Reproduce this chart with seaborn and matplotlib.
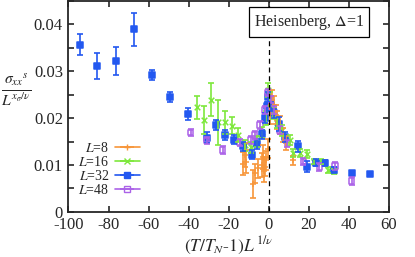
import numpy as np
import pandas as pd
import matplotlib
matplotlib.use("Agg")
import matplotlib.pyplot as plt
import seaborn as sns

# L=8
x8 = [-12.7, -11.8, -11.3, -8, -6.8, -5.2, -3.5, -2.7, -2.3, -1.8, -1.3, -0.5, 0.6, 1.6, 2.6, 3.6, 4.2, 5.6, 7.1, 8.6, 12]
y8 = [0.0103, 0.0121, 0.0107, 0.006, 0.0082, 0.0093, 0.0100, 0.0117, 0.0088, 0.0096, 0.0110, 0.0135, 0.0207, 0.0239, 0.0228, 0.0207, 0.0196, 0.0185, 0.0164, 0.0147, 0.0110]
e8 = [0.0025, 0.0025, 0.0025, 0.003, 0.002, 0.002, 0.0025, 0.0025, 0.0025, 0.002, 0.002, 0.002, 0.002, 0.002, 0.002, 0.002, 0.002, 0.002, 0.0015, 0.0015, 0.001]
# L=16
x16 = [-35.6, -32.3, -28.8, -25.1, -21.8, -18.5, -15.2, -12, -9, -6, -3.5, -1.5, -0.5, 0.5, 2, 4, 6.6, 10.6, 12.3, 15.6, 19.3, 22.8, 26, 29.7, 32.6]
y16 = [0.0223, 0.0196, 0.0239, 0.0191, 0.0191, 0.0184, 0.0164, 0.0142, 0.0138, 0.0150, 0.0170, 0.0200, 0.0260, 0.0240, 0.0210, 0.0190, 0.0174, 0.0153, 0.0126, 0.0125, 0.0123, 0.0107, 0.0107, 0.0089, 0.0086]
e16 = [0.0025, 0.003, 0.0035, 0.0048, 0.0025, 0.0018, 0.0015, 0.0012, 0.0012, 0.0012, 0.0012, 0.0015, 0.0015, 0.0015, 0.0012, 0.0012, 0.0012, 0.001, 0.0008, 0.0008, 0.0008, 0.0006, 0.0006, 0.0006, 0.0005]
# L=32
x32 = [-94.2, -85.7, -76.2, -67.2, -58.2, -49.3, -40.3, -31, -26.3, -21.8, -17.2, -12.8, -8.2, -5.8, -3.5, -2, -1, -0.3, 1, 2.5, 5.3, 8, 14.5, 19, 23.5, 28, 32.6, 41.4, 50.5]
y32 = [0.0357, 0.0311, 0.0322, 0.0390, 0.0292, 0.0245, 0.0209, 0.0158, 0.0185, 0.0164, 0.0154, 0.0140, 0.0122, 0.0145, 0.0165, 0.0200, 0.0225, 0.0245, 0.0225, 0.0210, 0.0187, 0.0160, 0.0140, 0.0096, 0.0105, 0.0104, 0.0089, 0.0082, 0.0081]
e32 = [0.0023, 0.0027, 0.003, 0.0035, 0.001, 0.001, 0.0012, 0.0012, 0.001, 0.001, 0.001, 0.001, 0.001, 0.001, 0.001, 0.001, 0.001, 0.001, 0.001, 0.001, 0.0015, 0.001, 0.0012, 0.0012, 0.0008, 0.0006, 0.0006, 0.0005, 0.0004]
# L=48
x48 = [-39, -31, -23, -14.3, -9, -7, -4.3, -1.8, -0.3, 1, 2.5, 5.6, 9.3, 17.3, 25.3, 33.2, 41.4]
y48 = [0.0169, 0.0152, 0.0132, 0.0148, 0.0153, 0.0164, 0.0185, 0.0217, 0.0255, 0.0240, 0.0217, 0.0175, 0.0146, 0.0107, 0.0096, 0.0098, 0.0066]
e48 = [0.0008] * len(x48)

labels = ["L=8", "L=16", "L=32", "L=48"]
colors = ["#f7963a", "#7ee83c", "#2358f0", "#ab62e8"]
markers = ["+", "x", "s", "s"]

sns.set_style("ticks")
plt.rcParams["font.family"] = "serif"
plt.rcParams["font.serif"] = ["Liberation Serif", "DejaVu Serif"]
plt.rcParams["mathtext.fontset"] = "stix"
plt.rcParams["axes.unicode_minus"] = False

fig = plt.figure(figsize=(4.15, 2.57), dpi=100)
ax = fig.add_axes([0.165, 0.176, 0.772, 0.82])

series = [(x8, y8, e8), (x16, y16, e16), (x32, y32, e32), (x48, y48, e48)]
handles = []
for (xs, ys, es), lab, c, m in zip(series, labels, colors, markers):
    df = pd.DataFrame({"x": xs, "y": ys})
    ax.errorbar(xs, ys, yerr=es, fmt="none", ecolor=c, elinewidth=1.2, capsize=2, capthick=1.2)
    face = "none" if lab == "L=48" else c
    sns.scatterplot(data=df, x="x", y="y", ax=ax, marker=m, s=16, color=c,
                    facecolors=face, edgecolor=c, linewidth=1.1, legend=False)
    h = ax.errorbar([], [], xerr=[], color=c, marker=m, ms=4, mfc=face, mec=c,
                    lw=1.2, capsize=2, label=lab)
    handles.append(h)

ax.axvline(0, color="black", ls=(0, (4, 3)), lw=0.9)

ax.set_xlim(-100, 60)
ax.set_ylim(0, 0.045)
ax.set_xticks(np.arange(-100, 61, 20))
ax.set_yticks([0, 0.01, 0.02, 0.03, 0.04])
ax.set_yticklabels(["0", "0.01", "0.02", "0.03", "0.04"])
ax.set_yticks(np.arange(0, 0.0451, 0.005), minor=True)
ax.tick_params(which="both", direction="in", top=True, right=True, labelsize=12, width=1.2, pad=4)
ax.tick_params(which="major", length=4)
ax.tick_params(which="minor", length=4)
for s in ax.spines.values():
    s.set_linewidth(1.3)

ax.set_xlabel(r"$(T/T_N$-$1)L^{\,1/\nu}$", fontsize=12.5, va="center")
ax.xaxis.set_label_coords(0.5, -0.163)
ax.set_ylabel(r"$\frac{\sigma_{xx}{}^{s}}{L^{x_\sigma/\nu}}$", fontsize=16, rotation=0, va="center", ha="center")
ax.yaxis.set_label_coords(-0.163, 0.58)

ax.text(0.75, 0.9, r"Heisenberg, $\Delta$=1", transform=ax.transAxes, ha="center", va="center",
        fontsize=11.5, bbox=dict(boxstyle="square,pad=0.3", fc="white", ec="black", lw=0.9))

leg = ax.legend(handles=handles, labels=[r"$L$=8", r"$L$=16", r"$L$=32", r"$L$=48"],
                loc="lower right", bbox_to_anchor=(0.223, 0.07), frameon=False, fontsize=10,
                markerfirst=False, handlelength=1.8, labelspacing=0.0, borderpad=0.0,
                borderaxespad=0.0, handletextpad=0.4)

fig.savefig("out.png", dpi=100)
